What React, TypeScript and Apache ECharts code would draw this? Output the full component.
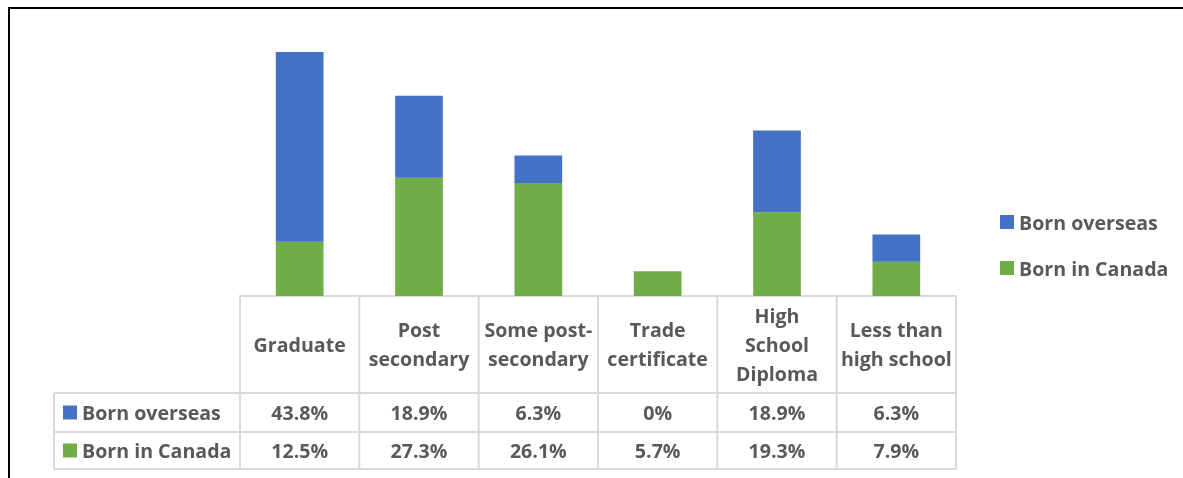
import React, { useEffect, useRef } from "react";
import * as echarts from "echarts";

const categories = ["Graduate", "Post\nsecondary", "Some post-\nsecondary", "Trade\ncertificate", "High\nSchool\nDiploma", "Less than\nhigh school"];
const bornOverseas = [43.8, 18.9, 6.3, 0, 18.9, 6.3];
const bornInCanada = [12.5, 27.3, 26.1, 5.7, 19.3, 7.9];
const seriesNames = ["Born overseas", "Born in Canada"];

const BLUE = "#4472C4";
const GREEN = "#70AD47";
const TEXT = "#595959";
const BORDER = "#d9d9d9";
const FONT = "Open Sans";
const FS = 19.6;

export default function App() {
  const ref = useRef<HTMLDivElement>(null);
  useEffect(() => {
    if (!ref.current) return;
    const chart = echarts.init(ref.current, undefined, { renderer: "svg" });
    const W = 1183;
    const gridLeft = 240;
    const gridRight = 227;
    const baseY = 296;
    const gridWidth = W - gridLeft - gridRight;
    const n = categories.length;
    const cellW = gridWidth / n;
    const tableLeft = 54;
    const headBottom = 393;
    const row1Bottom = 432;
    const row2Bottom = 469;
    const tableRight = gridLeft + gridWidth;

    const g: any[] = [];
    const line = (x1: number, y1: number, x2: number, y2: number, color = BORDER, w = 2) =>
      g.push({ type: "line", silent: true, shape: { x1, y1, x2, y2 }, style: { stroke: color, lineWidth: w } });

    // frame
    line(8, 8, W, 8, "#000", 2);
    line(9, 8, 9, 478, "#000", 2);

    // table grid
    for (let i = 0; i <= n; i++) {
      const x = gridLeft + i * cellW;
      line(x, baseY, x, row2Bottom);
    }
    line(tableLeft, headBottom, tableLeft, row2Bottom);
    line(gridLeft, baseY, tableRight, baseY);
    line(tableLeft, headBottom, tableRight, headBottom);
    line(tableLeft, row1Bottom, tableRight, row1Bottom);
    line(tableLeft, row2Bottom, tableRight, row2Bottom);

    const rows = [
      { name: seriesNames[0], color: BLUE, values: bornOverseas, cy: (headBottom + row1Bottom) / 2 },
      { name: seriesNames[1], color: GREEN, values: bornInCanada, cy: (row1Bottom + row2Bottom) / 2 },
    ];
    const textStyle = { fill: TEXT, fontSize: FS, fontWeight: "bold", fontFamily: FONT };
    rows.forEach((r) => {
      g.push({ type: "rect", silent: true, shape: { x: 63, y: r.cy - 7, width: 14, height: 14 }, style: { fill: r.color } });
      g.push({ type: "text", silent: true, x: 82, y: r.cy, style: { ...textStyle, text: r.name, align: "left", verticalAlign: "middle" } });
      r.values.forEach((v, i) => {
        g.push({
          type: "text",
          silent: true,
          x: gridLeft + (i + 0.5) * cellW,
          y: r.cy,
          style: { ...textStyle, text: `${v}%`, align: "center", verticalAlign: "middle" },
        });
      });
    });

    chart.setOption({
      animation: false,
      grid: { left: gridLeft, right: gridRight, top: 36, bottom: 478 - baseY },
      legend: {
        data: seriesNames,
        orient: "vertical",
        left: 995,
        top: 205,
        icon: "rect",
        itemWidth: 14,
        itemHeight: 14,
        itemGap: 22,
        selectedMode: false,
        textStyle: { color: TEXT, fontSize: FS, fontWeight: "bold", fontFamily: FONT, lineHeight: 24 },
      },
      xAxis: {
        type: "category",
        data: categories,
        axisLine: { show: true, lineStyle: { color: BORDER, width: 2 } },
        axisTick: { show: false },
        axisLabel: {
          interval: 0,
          verticalAlign: "middle",
          margin: 48,
          lineHeight: 29,
          color: TEXT,
          fontSize: FS,
          fontWeight: "bold",
          fontFamily: FONT,
        },
      },
      yAxis: { type: "value", min: 0, max: 60, show: false, splitLine: { show: false } },
      series: [
        { name: seriesNames[1], type: "bar", stack: "total", data: bornInCanada, barWidth: "40%", itemStyle: { color: GREEN } },
        { name: seriesNames[0], type: "bar", stack: "total", data: bornOverseas, barWidth: "40%", itemStyle: { color: BLUE } },
      ],
      graphic: g,
    });
    return () => chart.dispose();
  }, []);
  return <div ref={ref} style={{ position: "fixed", left: 0, top: 0, width: 1183, height: 478 }} />;
}
